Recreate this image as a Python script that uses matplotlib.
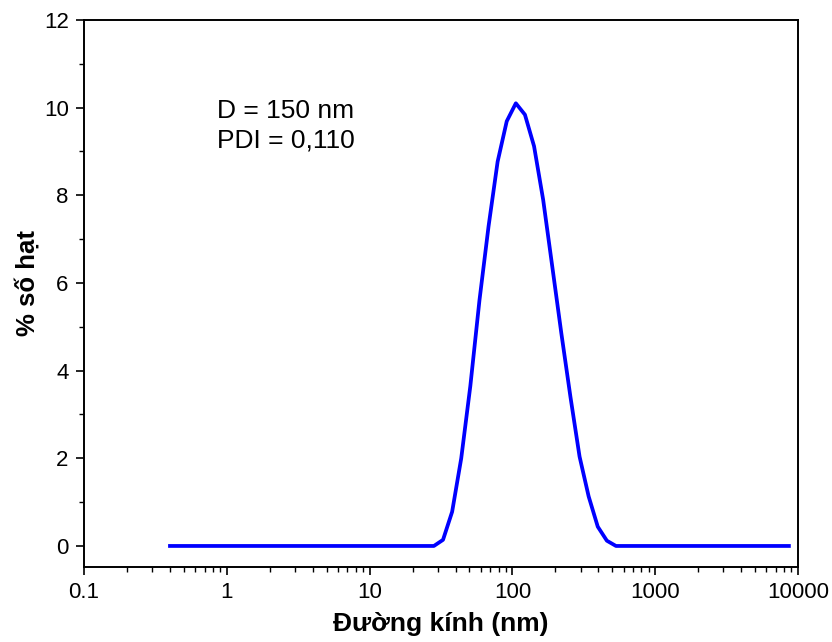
import numpy as np
import matplotlib
matplotlib.use('Agg')
import matplotlib.pyplot as plt
from matplotlib.ticker import FixedLocator, LogLocator, NullFormatter, MultipleLocator

# kich thuoc hat (nm) - cac lop kich thuoc cua may do
size_nm = [0.4, 0.4632, 0.5365, 0.6213, 0.7195, 0.8332, 0.9649, 1.117, 1.294, 1.499,
           1.736, 2.01, 2.328, 2.696, 3.122, 3.615, 4.187, 4.849, 5.615, 6.503,
           7.531, 8.721, 10.1, 11.7, 13.54, 15.69, 18.17, 21.04, 24.36, 28.21,
           32.67, 37.84, 43.82, 50.75, 58.77, 68.06, 78.82, 91.28, 105.7, 122.4,
           141.8, 164.2, 190.1, 220.2, 255.0, 295.3, 342.0, 396.1, 458.7, 531.2,
           615.1, 712.4, 825.0, 955.4, 1106, 1281, 1484, 1718, 1990, 2305,
           2669, 3091, 3580, 4145, 4801, 5560, 6439, 7456, 8635]
# % so hat
peak = [0.14, 0.78, 2.0, 3.65, 5.6, 7.29, 8.77, 9.69, 10.1, 9.84,
        9.12, 7.9, 6.38, 4.85, 3.4, 2.04, 1.13, 0.44, 0.12]
percent = [0.0] * 30 + peak + [0.0] * 20

plt.rcParams['font.family'] = ['Liberation Sans', 'DejaVu Sans']

fig = plt.figure(figsize=(8.32, 6.42), dpi=100)
ax = fig.add_axes([84 / 832, 1 - 567 / 642, 714 / 832, 547 / 642])

ax.plot(size_nm, percent, color='#0000ff', lw=2.7)

ax.set_xscale('log')
ax.set_xlim(0.1, 10000)
ax.set_ylim(-0.48, 12)

ax.xaxis.set_major_locator(FixedLocator([0.1, 1, 10, 100, 1000, 10000]))
ax.set_xticklabels(['0.1', '1', '10', '100', '1000', '10000'])
ax.xaxis.set_minor_locator(LogLocator(base=10, subs=np.arange(2, 10)))
ax.xaxis.set_minor_formatter(NullFormatter())
ax.yaxis.set_major_locator(MultipleLocator(2))
ax.yaxis.set_minor_locator(MultipleLocator(1))

ax.tick_params(which='major', direction='out', length=6, width=1.2, labelsize=16, pad=5)
ax.tick_params(which='minor', direction='out', length=3.5, width=1.0)
ax.tick_params(top=False, right=False, which='both')
for s in ax.spines.values():
    s.set_linewidth(1.4)

ax.set_xlabel('Đường kính (nm)', fontsize=19, fontweight='bold', labelpad=6)
ax.set_ylabel('% số hạt', fontsize=18.5, fontweight='bold', labelpad=3)
ax.yaxis.label.set_y(0.52)

ax.text(0.186, 0.807, 'D = 150 nm\nPDI = 0,110', transform=ax.transAxes,
        fontsize=19, va='center', ha='left', linespacing=1.3)

fig.savefig('out.png', dpi=100)
